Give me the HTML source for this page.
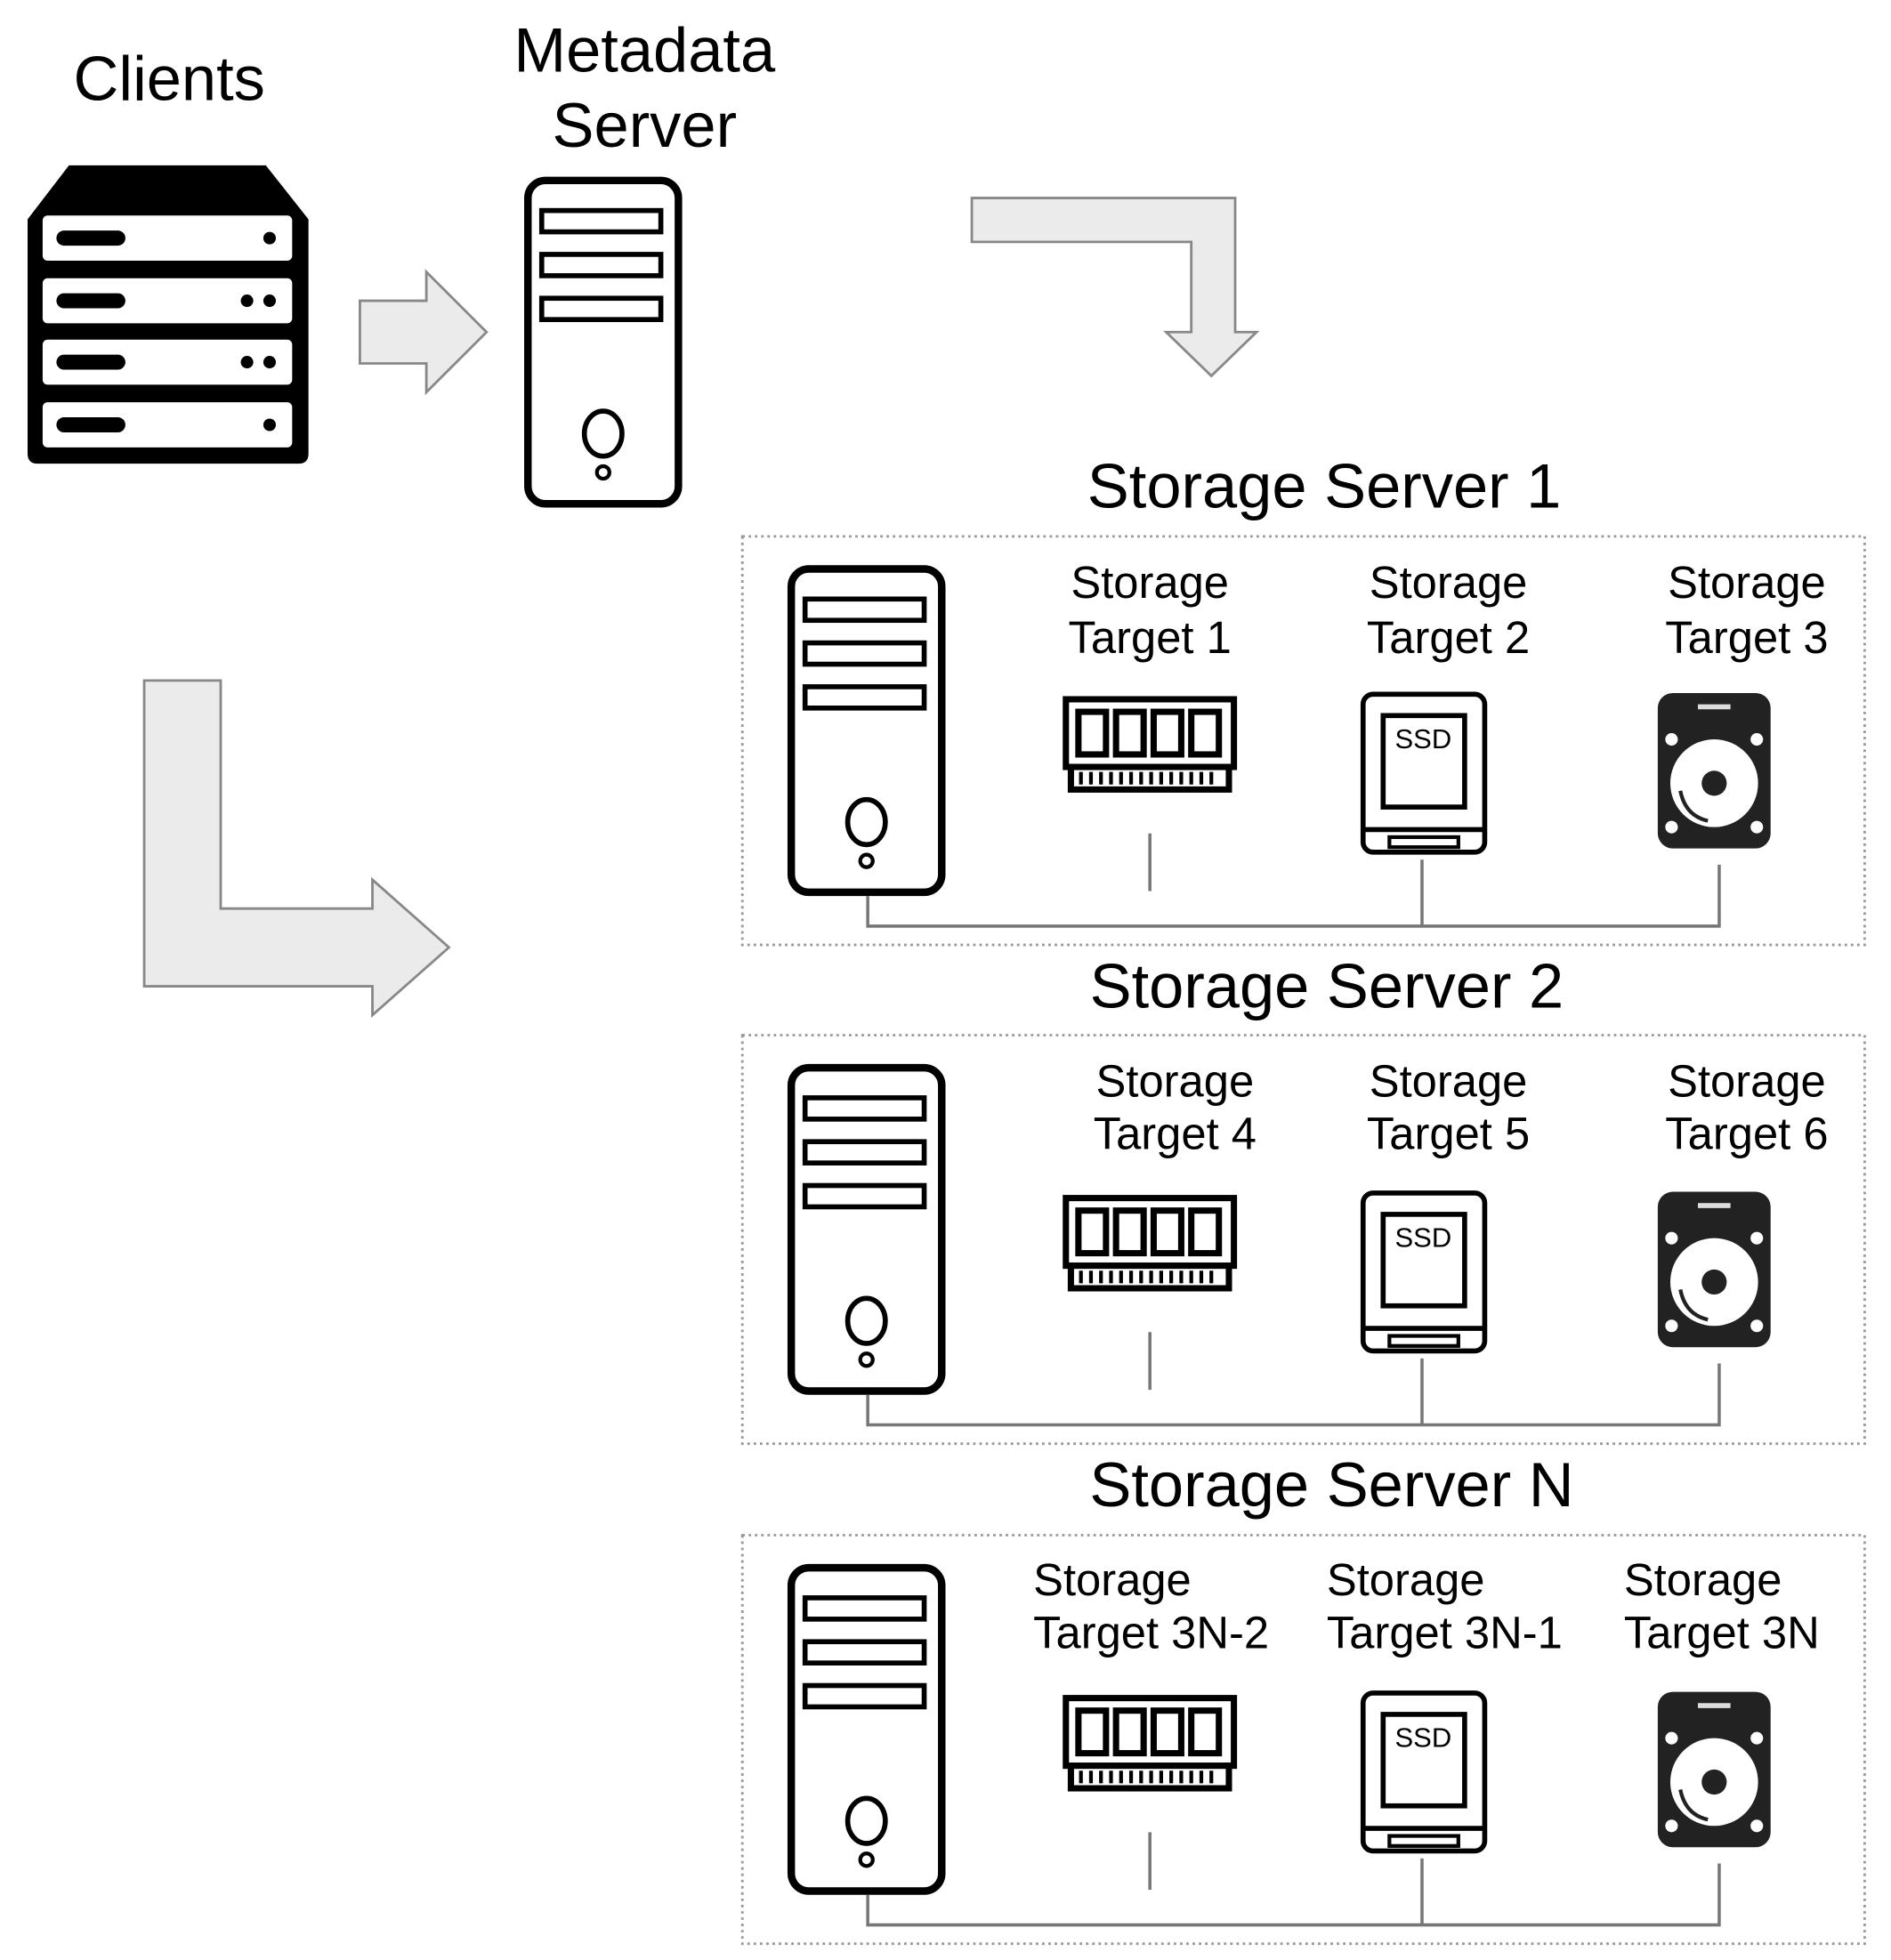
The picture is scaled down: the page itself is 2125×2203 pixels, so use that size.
<!DOCTYPE html>
<html><head><meta charset="utf-8"><style>
html,body{margin:0;padding:0;background:#fff;}
svg{display:block;}
text{font-family:"Liberation Sans",Arial,sans-serif;fill:#000;}
</style></head><body>
<svg width="2125" height="2203" viewBox="0 0 1508 1564" preserveAspectRatio="none" xmlns="http://www.w3.org/2000/svg">
<defs>
<g id="tower">
  <rect x="3" y="3" width="120" height="258" rx="14" fill="#fff" stroke="#000" stroke-width="6"/>
  <rect x="14" y="27" width="95" height="17" fill="none" stroke="#000" stroke-width="4"/>
  <rect x="14" y="62" width="95" height="17" fill="none" stroke="#000" stroke-width="4"/>
  <rect x="14" y="97" width="95" height="17" fill="none" stroke="#000" stroke-width="4"/>
  <ellipse cx="63" cy="205" rx="15" ry="18" fill="none" stroke="#000" stroke-width="4"/>
  <circle cx="63" cy="236" r="5" fill="none" stroke="#000" stroke-width="3"/>
</g>
<g id="ram">
  <rect x="2" y="2" width="134" height="54" fill="#fff" stroke="#000" stroke-width="5"/>
  <rect x="12" y="12" width="22" height="34" fill="none" stroke="#000" stroke-width="5"/>
  <rect x="42" y="12" width="22" height="34" fill="none" stroke="#000" stroke-width="5"/>
  <rect x="72" y="12" width="22" height="34" fill="none" stroke="#000" stroke-width="5"/>
  <rect x="102" y="12" width="22" height="34" fill="none" stroke="#000" stroke-width="5"/>
  <rect x="6" y="56" width="126" height="18" fill="#fff" stroke="#000" stroke-width="5"/>
  <path d="M14 60v10M22 60v10M30 60v10M38 60v10M46 60v10M54 60v10M62 60v10M70 60v10M78 60v10M86 60v10M94 60v10M102 60v10M110 60v10M118 60v10" stroke="#000" stroke-width="3"/>
</g>
<g id="ssd">
  <rect x="2" y="2" width="97" height="126" rx="8" fill="#fff" stroke="#000" stroke-width="4"/>
  <rect x="18" y="19" width="65" height="73" fill="#fff" stroke="#000" stroke-width="4"/>
  <text x="50" y="45" font-size="22" text-anchor="middle">SSD</text>
  <line x1="2" y1="110" x2="99" y2="110" stroke="#000" stroke-width="4"/>
  <rect x="23" y="116" width="55" height="8" fill="none" stroke="#000" stroke-width="3"/>
</g>
<g id="hdd">
  <rect x="0" y="0" width="90" height="124" rx="12" fill="#222"/>
  <rect x="32" y="9" width="26" height="4" fill="#ddd"/>
  <circle cx="11" cy="37" r="5" fill="#fff"/><circle cx="79" cy="37" r="5" fill="#fff"/>
  <circle cx="11" cy="107" r="5" fill="#fff"/><circle cx="79" cy="107" r="5" fill="#fff"/>
  <circle cx="45" cy="72" r="35" fill="#fff"/>
  <circle cx="45" cy="72" r="10" fill="#222"/>
  <path d="M18 78 Q22 98 40 102" fill="none" stroke="#222" stroke-width="3"/>
</g>
<g id="cluster">
  <rect x="592" y="428" width="895" height="326" fill="none" stroke="#999" stroke-width="2" stroke-dasharray="2,3"/>
  <use href="#tower" x="628" y="451"/>
  <use href="#ram" x="848" y="556"/>
  <use href="#ssd" x="1085" y="552"/>
  <use href="#hdd" x="1322" y="553"/>
  <path d="M917 665V711M692 715V739H1371V690M1134 686V739" fill="none" stroke="#777" stroke-width="2.5"/>
</g>
</defs>

<text x="135" y="80" font-size="50" text-anchor="middle">Clients</text>
<g>
  <path d="M22 175 L55 132 H212 L246 175 V362 Q246 370 238 370 H30 Q22 370 22 362 Z" fill="#000"/>
  <rect x="34" y="172" width="199" height="36" rx="4" fill="#fff"/>
  <rect x="34" y="222" width="199" height="36" rx="4" fill="#fff"/>
  <rect x="34" y="271" width="199" height="36" rx="4" fill="#fff"/>
  <rect x="34" y="321" width="199" height="36" rx="4" fill="#fff"/>
  <rect x="45" y="184" width="55" height="12" rx="6" fill="#000"/>
  <rect x="45" y="234" width="55" height="12" rx="6" fill="#000"/>
  <rect x="45" y="283" width="55" height="12" rx="6" fill="#000"/>
  <rect x="45" y="333" width="55" height="12" rx="6" fill="#000"/>
  <circle cx="215" cy="190" r="5" fill="#000"/>
  <circle cx="197" cy="240" r="5" fill="#000"/><circle cx="215" cy="240" r="5" fill="#000"/>
  <circle cx="197" cy="289" r="5" fill="#000"/><circle cx="215" cy="289" r="5" fill="#000"/>
  <circle cx="215" cy="339" r="5" fill="#000"/>
</g>

<path d="M287 240 H340 V217 L388 265 L340 313 V290 H287 Z" fill="#ebebeb" stroke="#888" stroke-width="2"/>

<text x="514" y="57" font-size="50" text-anchor="middle">Metadata</text>
<text x="514" y="117" font-size="50" text-anchor="middle">Server</text>
<use href="#tower" x="418" y="141"/>

<path d="M775 158 H985 V265 H1002 L966 300 L930 265 H950 V193 H775 Z" fill="#ebebeb" stroke="#888" stroke-width="2"/>
<path d="M115 543 H176 V725 H297 V702 L358 756 L297 810 V787 H115 Z" fill="#ebebeb" stroke="#888" stroke-width="2"/>

<text x="1056" y="405" font-size="50" text-anchor="middle">Storage Server 1</text>
<use href="#cluster"/>
<g font-size="36" text-anchor="middle">
<text x="917" y="477">Storage</text><text x="917" y="521">Target 1</text>
<text x="1155" y="477">Storage</text><text x="1155" y="521">Target 2</text>
<text x="1393" y="477">Storage</text><text x="1393" y="521">Target 3</text>
</g>

<text x="1058" y="804" font-size="50" text-anchor="middle">Storage Server 2</text>
<use href="#cluster" y="398"/>
<g font-size="36" text-anchor="middle">
<text x="937" y="875">Storage</text><text x="937" y="917">Target 4</text>
<text x="1155" y="875">Storage</text><text x="1155" y="917">Target 5</text>
<text x="1393" y="875">Storage</text><text x="1393" y="917">Target 6</text>
</g>

<text x="1062" y="1202" font-size="50" text-anchor="middle">Storage Server N</text>
<use href="#cluster" y="797"/>
<g font-size="36">
<text x="824" y="1273">Storage</text><text x="824" y="1315">Target 3N-2</text>
<text x="1058" y="1273">Storage</text><text x="1058" y="1315">Target 3N-1</text>
<text x="1295" y="1273">Storage</text><text x="1295" y="1315">Target 3N</text>
</g>
</svg>
</body></html>
